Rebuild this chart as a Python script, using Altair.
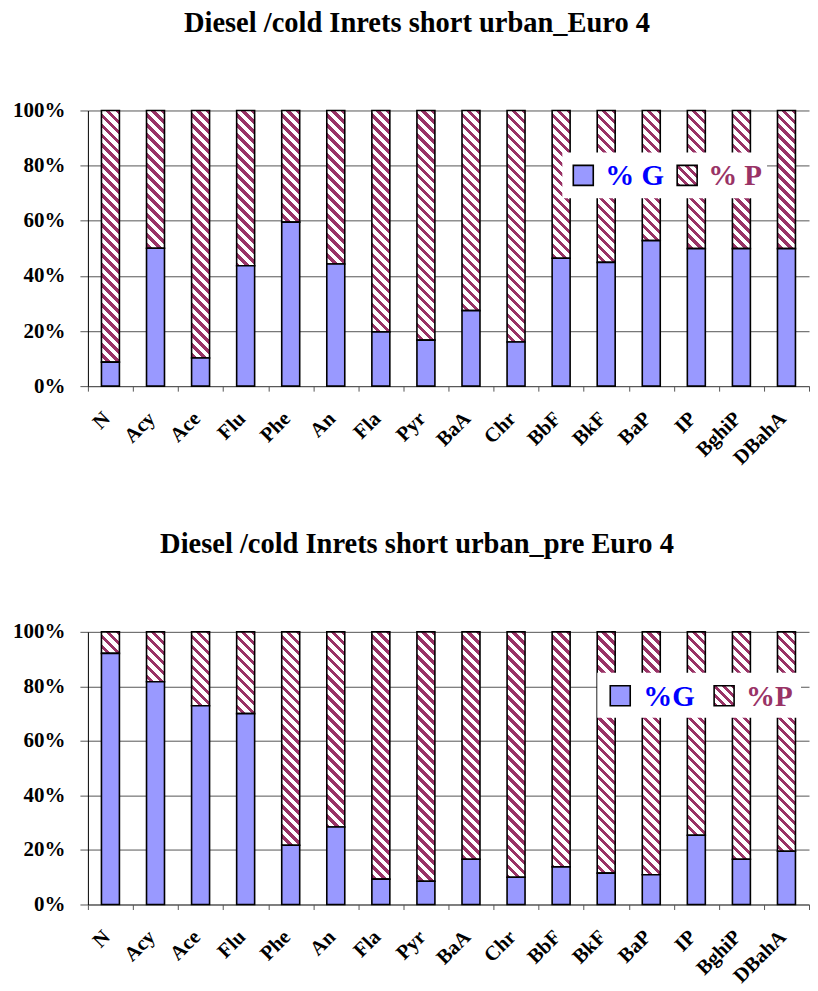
import altair as alt
import pandas as pd

# ---- data ----
compounds = ["N", "Acy", "Ace", "Flu", "Phe", "An", "Fla", "Pyr", "BaA", "Chr",
             "BbF", "BkF", "BaP", "IP", "BghiP", "DBahA"]

g_euro4 = [8.7, 50.0, 10.2, 43.7, 59.5, 44.3, 19.7, 16.7, 27.4, 16.0,
           46.4, 44.9, 52.8, 49.9, 49.9, 49.9]
p_euro4 = [91.3, 50.0, 89.8, 56.3, 40.5, 55.7, 80.3, 83.3, 72.6, 84.0,
           53.6, 55.1, 47.2, 50.1, 50.1, 50.1]

g_pre = [92.1, 81.7, 72.9, 70.0, 21.7, 28.4, 9.3, 8.5, 16.6, 10.0,
         13.8, 11.5, 10.9, 25.4, 16.6, 19.5]
p_pre = [7.9, 18.3, 27.1, 30.0, 78.3, 71.6, 90.7, 91.5, 83.4, 90.0,
         86.2, 88.5, 89.1, 74.6, 83.4, 80.5]

title_top = "Diesel /cold Inrets short urban_Euro 4"
title_bottom = "Diesel /cold Inrets short urban_pre Euro 4"
legend_top = ["% G", "% P"]
legend_bottom = ["%G", "%P"]

# ---- style ----
BLUE = "#9999FF"
MAROON = "#993366"
FONT = "Liberation Serif"
PLOT_W = 722
BAR_W = 18


def hatch(w, h, period=10.0, frac=0.45):
    """Diagonal '\\' stripes as a linear gradient over a w x h box."""
    r = w / h
    k = (1 + r) / (1 + r * r)
    total = w + h
    stops = []
    n = int(total / period) + 2
    for i in range(n):
        a = i * period / total
        b = (i * period + frac * period) / total
        c = (i + 1) * period / total
        if a > 1:
            break
        stops += [
            {"offset": min(a, 1.0), "color": MAROON},
            {"offset": min(b, 1.0), "color": MAROON},
            {"offset": min(b, 1.0), "color": "white"},
            {"offset": min(c, 1.0), "color": "white"},
        ]
    return alt.LinearGradient(gradient="linear", x1=1, y1=0, x2=1 - r * k, y2=k,
                              stops=stops)


def panel(g, p, title, leg_labels, H, box, sq_g, txt_g, sq_p, txt_p):
    df = pd.DataFrame({"cmp": compounds, "G": g, "P": p})
    df["total"] = df["G"] + df["P"]

    X = alt.X("cmp:N", sort=compounds, title=None,
              scale=alt.Scale(paddingInner=0.0, paddingOuter=0.0),
              axis=alt.Axis(labelAngle=-45, tickBand="extent", tickSize=5,
                            labelFontSize=20.5, labelPadding=17, labelOffset=-11,
                            labelFont=FONT, labelFontWeight="bold", labelColor="black",
                            domainColor="#555", tickColor="#555", grid=False))
    base = alt.Chart(df)
    hatch_bar = base.mark_bar(width=BAR_W, fill=hatch(BAR_W, H), strokeWidth=0).encode(
        x=X,
        y=alt.Y("total:Q", title=None, scale=alt.Scale(domain=[0, 100], nice=False),
                axis=alt.Axis(values=[0, 20, 40, 60, 80, 100], labelExpr="datum.value + '%'",
                              tickSize=8, labelPadding=15, labelFontSize=21,
                              labelFont=FONT, labelFontWeight="bold", labelColor="black",
                              domainColor="black", tickColor="#555",
                              gridColor="#555", grid=True)),
    )
    p_bar = base.mark_bar(width=BAR_W, fillOpacity=0, stroke="black", strokeWidth=1.6).encode(
        x=X, y="G:Q", y2="total:Q")
    g_bar = base.mark_bar(width=BAR_W, fill=BLUE, stroke="black", strokeWidth=1.6).encode(
        x=X, y="G:Q")

    one = pd.DataFrame({"k": [0]})
    bg = alt.Chart(one).mark_rect(fill="white", strokeWidth=0).encode(
        x=alt.value(box[0]), x2=alt.value(box[1]), y=alt.value(box[2]), y2=alt.value(box[3]))
    sg = alt.Chart(one).mark_rect(fill=BLUE, stroke="black", strokeWidth=1.6).encode(
        x=alt.value(sq_g), x2=alt.value(sq_g + 20), y=alt.value(box[2] + 13), y2=alt.value(box[2] + 33))
    sp = alt.Chart(one).mark_rect(fill=hatch(20, 20, period=9), stroke="black", strokeWidth=1.6).encode(
        x=alt.value(sq_p), x2=alt.value(sq_p + 20), y=alt.value(box[2] + 13), y2=alt.value(box[2] + 33))
    tg = alt.Chart(one).mark_text(text=leg_labels[0], font=FONT, fontSize=29, fontWeight="bold",
                                  color="#0000FF", align="left", baseline="middle").encode(
        x=alt.value(txt_g), y=alt.value(box[2] + 24))
    tp = alt.Chart(one).mark_text(text=leg_labels[1], font=FONT, fontSize=29, fontWeight="bold",
                                  color=MAROON, align="left", baseline="middle").encode(
        x=alt.value(txt_p), y=alt.value(box[2] + 24))

    return alt.layer(hatch_bar, p_bar, g_bar, bg, sg, sp, tg, tp).properties(
        width=PLOT_W, height=H,
        title=alt.TitleParams(title, font=FONT, fontSize=28.5, fontWeight="bold", color="black",
                              anchor="middle", frame="bounds", offset=62, dx=6),
    )


top = panel(g_euro4, p_euro4, title_top, legend_top, 276,
            box=(475, 680, 42, 88), sq_g=486, txt_g=518, sq_p=590, txt_p=621)
bottom = panel(g_pre, p_pre, title_bottom, legend_bottom, 273,
               box=(510, 714, 41, 86), sq_g=523, txt_g=556, sq_p=627, txt_p=659)

chart = alt.vconcat(top, bottom, spacing=61).properties(
    padding={"left": 4, "top": 0, "right": 0, "bottom": 0}
).configure_view(stroke=None).configure_axis(
    domainWidth=1, tickWidth=1, gridWidth=1,
)

chart.save("out.html", embed_options={"renderer": "svg", "actions": False})
